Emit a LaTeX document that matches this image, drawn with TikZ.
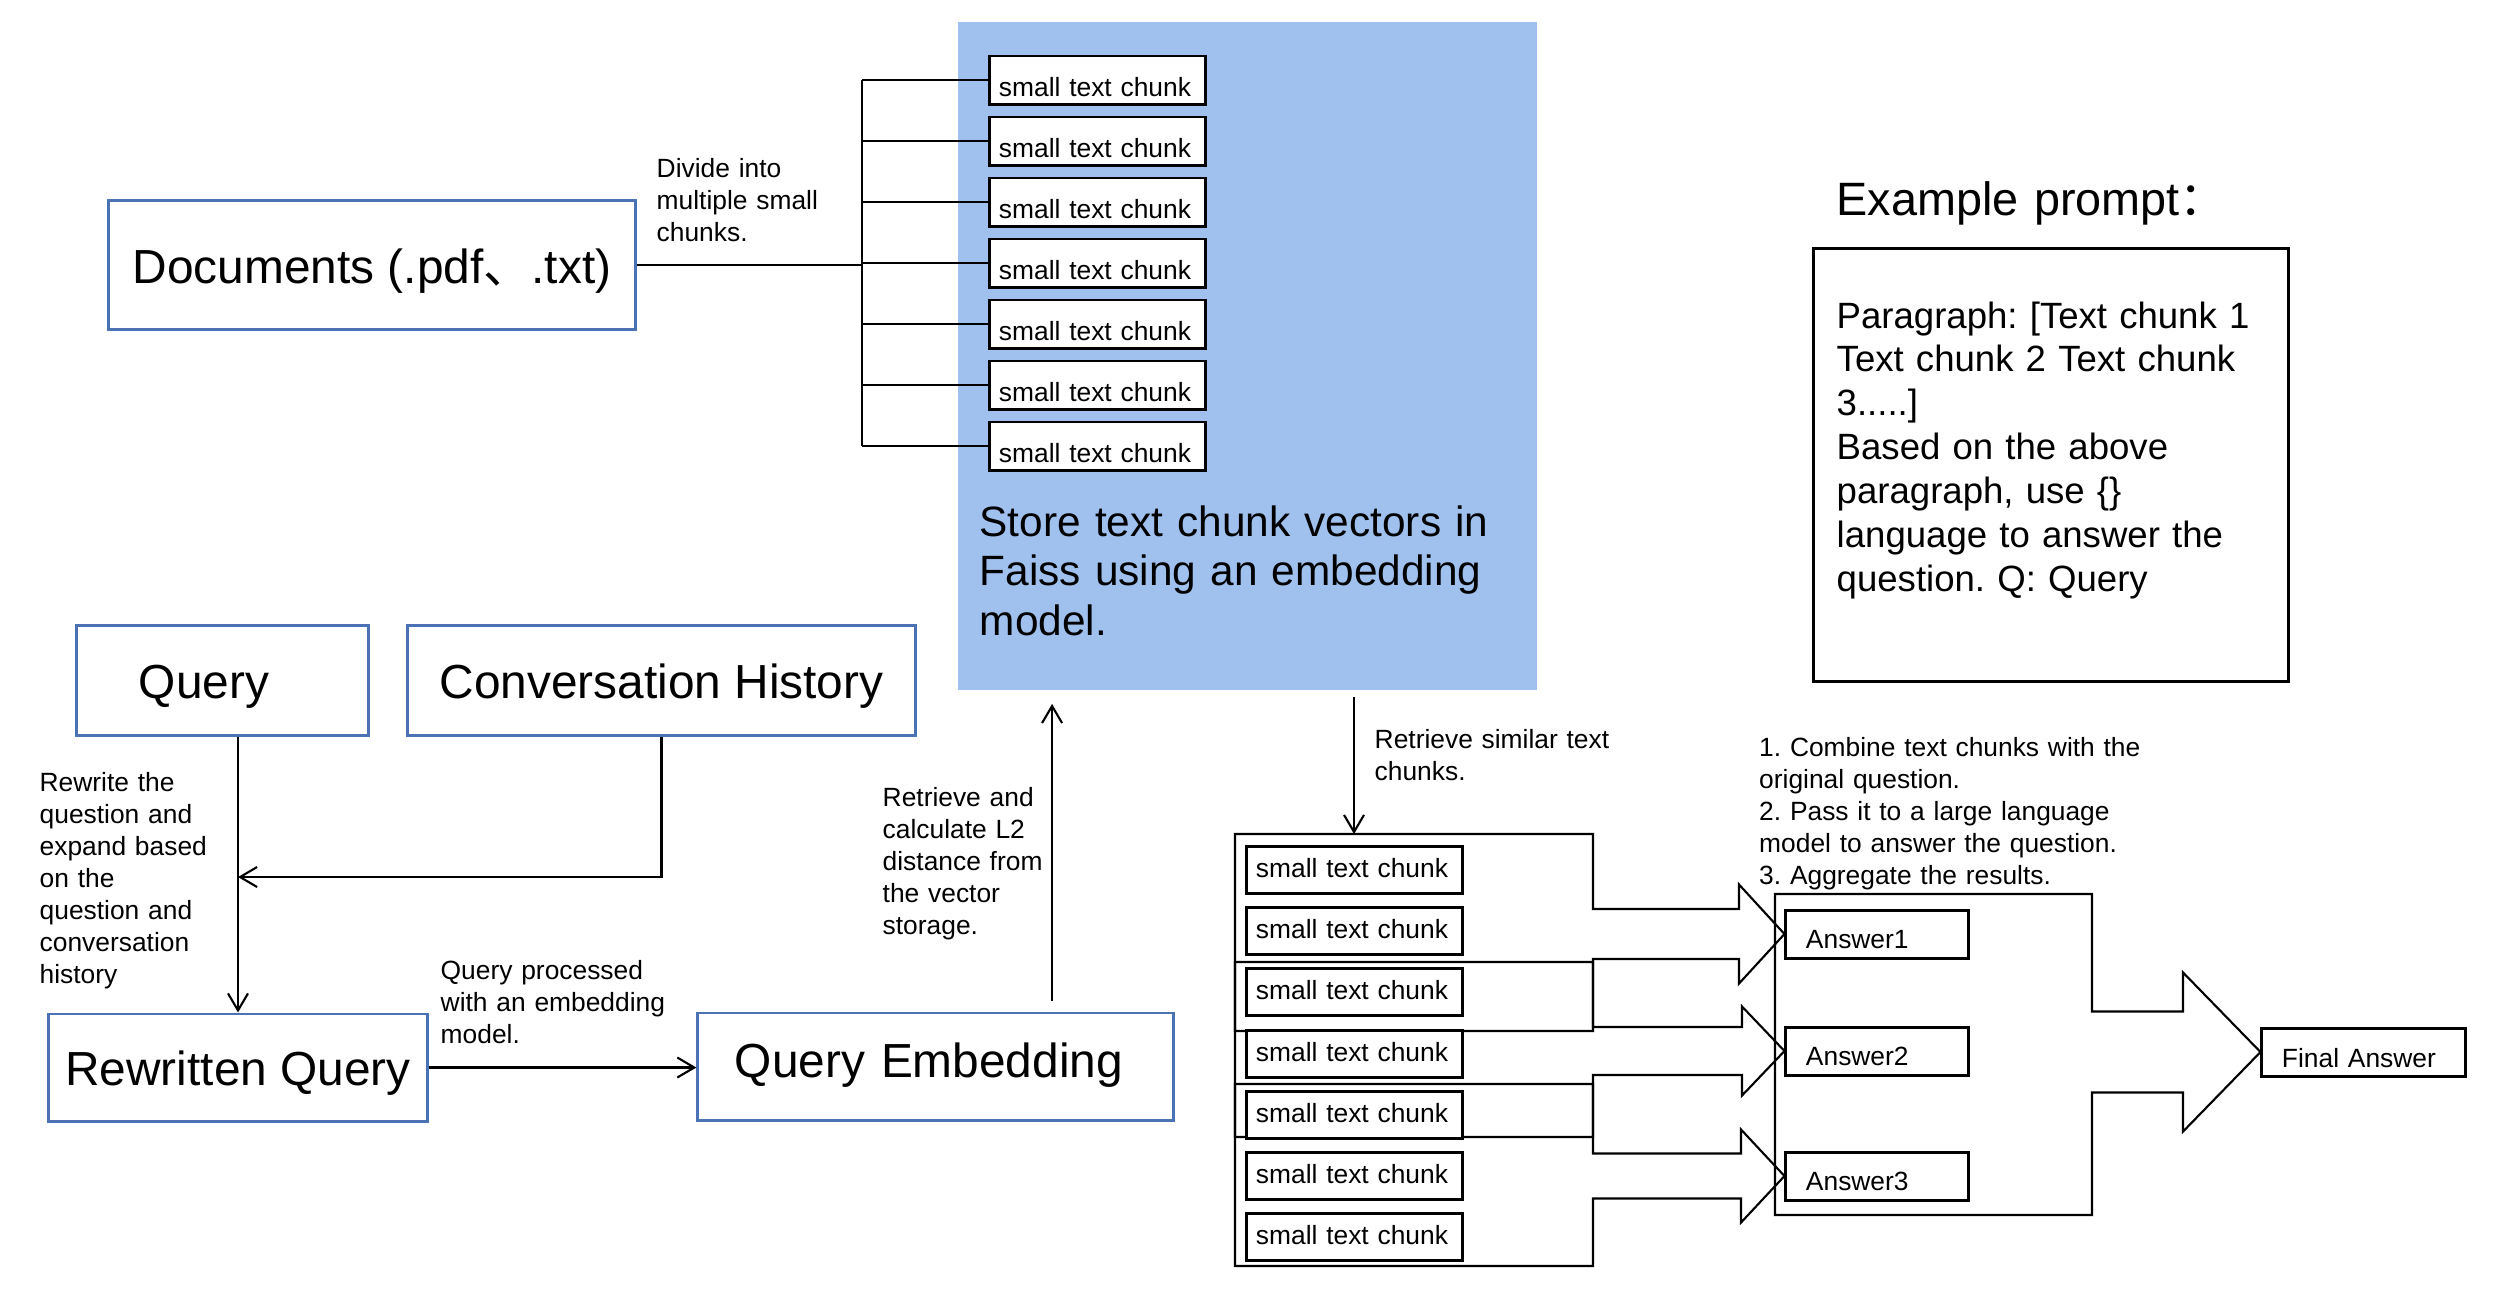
\documentclass[tikz,border=0pt]{standalone}
\usepackage{fontspec}
\setmainfont{Liberation Sans}
\newfontfamily\cjkfont{Noto Sans CJK SC}
\usepackage{tikz}
\usetikzlibrary{arrows.meta,backgrounds,calc,positioning}
\definecolor{boxblue}{RGB}{74,114,180}
\definecolor{storeblue}{RGB}{160,192,238}
\frenchspacing
\newcommand{\bigFont}{\fontsize{13.6}{16}\selectfont}
\newcommand{\smallFont}{\fontsize{7.5}{9.1}\selectfont}
\newcommand{\arrowCalloutXX}[8]{
    %% body from #1 to #2 (x), #3 to #4 (y), head base at #5, tip on #8
    \coordinate (TIP) at (#8.west);
    \coordinate (SHT) at ([yshift=#6]TIP);
    \coordinate (SHB) at ([yshift=-#6]TIP);
    \coordinate (HDT) at ([yshift=#7]TIP);
    \coordinate (HDB) at ([yshift=-#7]TIP);
    \begin{scope}[on background layer]
    \draw[callout] (#1,#3) -- (#2,#3) -- (#2,#3 |- SHT) -- (#5,#3 |- SHT)
        -- (#5,#3 |- HDT) -- (TIP) -- (#5,#3 |- HDB) -- (#5,#3 |- SHB)
        -- (#2,#3 |- SHB) -- (#2,#4) -- (#1,#4) -- cycle;
    \end{scope}
}

\begin{document}
\begin{tikzpicture}[x=0.01cm,y=-0.01cm]
    \tikzstyle{bnode}=[rectangle,draw=boxblue,line width=0.85pt,font=\bigFont,%
    inner ysep=0pt,text height=0.45cm,text depth=0.09cm] %
    \tikzstyle{cnode}=[rectangle,draw,fill=white,line width=0.85pt,font=\smallFont,%
    minimum width=2.15cm,inner xsep=0.09cm,inner ysep=0pt,text width=1.97cm,align=left] %
    \tikzstyle{ctop}=[cnode,text height=0.40cm,text depth=0.08cm] %
    \tikzstyle{cbot}=[cnode,text height=0.31cm,text depth=0.16cm] %
    \tikzstyle{anode}=[rectangle,draw,fill=white,line width=0.85pt,font=\smallFont,%
    inner xsep=0.2cm,inner ysep=0pt,align=left,text height=0.385cm,text depth=0.095cm] %
    \tikzstyle{note}=[inner sep=0pt,anchor=base west,align=left,text width=4.5cm,%
    font=\smallFont] %
    \tikzstyle{conn}=[line width=0.6pt,-{Straight Barb[length=0.17cm,width=0.2cm]}] %
    \tikzstyle{brk}=[line width=0.5pt] %
    \tikzstyle{callout}=[line width=0.6pt,line join=miter] %

    \useasboundingbox (0,0) rectangle (2516,1302);

    %% Documents and the chunk store
    \node[bnode,minimum width=5.26cm,minimum height=1.28cm] (DOCS) at (372,265)
        {Documents (.pdf{\cjkfont 、}.txt)};
    \node[rectangle,fill=storeblue,minimum width=5.79cm,minimum height=6.68cm]
        (STORE) at (1247.5,356) {};
    \foreach \i in {1,...,7}
    {
        \node[ctop] (CHK\i) at (1097.5, {80+61*(\i-1)}) {small text chunk};
    }
    \node[note,text width=5.6cm,font=\fontsize{12.05}{14.2}\selectfont] (STORETXT)
        at (979,536) {Store text chunk vectors in\\Faiss using an embedding\\model.};

    \coordinate (BRK) at (862,263);
    \draw[brk] (DOCS.east) -- (DOCS.east -| BRK);
    \draw[brk] (CHK1.west -| BRK) -- (CHK7.west -| BRK);
    \foreach \i in {1,...,7}
    {
        \draw[brk] (CHK\i.west -| BRK) -- (CHK\i.west);
    }
    \node[note] (DIVLBL) at (656,177) {Divide into\\multiple small\\chunks.};

    %% Query side
    \node[bnode,minimum width=2.91cm,minimum height=1.09cm,inner xsep=0.62cm,%
        text width=1.67cm,align=left] (QUERY) at (222.5,680.5) {Query};
    \node[bnode,minimum width=5.07cm,minimum height=1.09cm] (CONV) at (661.5,680.5)
        {Conversation History};
    \node[bnode,minimum width=3.78cm,minimum height=1.07cm] (REWRITE) at (238,1067.5)
        {Rewritten Query};
    \node[bnode,minimum width=4.75cm,minimum height=1.07cm,inner xsep=0.37cm,%
        text width=4.01cm,align=left,text depth=0.24cm] (QEMB) at (935.5,1066.5)
        {Query Embedding};

    \coordinate (MERGE) at (REWRITE.north |- 0,877);
    \draw[conn] (QUERY.south -| REWRITE.north) -- (REWRITE.north);
    \draw[conn] (CONV.south) |- (MERGE);
    \draw[conn] (REWRITE.east) -- (REWRITE.east -| QEMB.west);
    \draw[conn,shorten <=0.1cm,shorten >=0.13cm] ([xshift=1.165cm]QEMB.north)
        -- ([xshift=1.165cm]QEMB.north |- STORE.south);

    \node[note] (RWLBL) at (39,791) {Rewrite the\\question and\\expand based\\on the\\%
        question and\\conversation\\history};
    \node[note] (PROCLBL) at (440,979) {Query processed\\with an embedding\\model.};
    \node[note] (RETRLBL) at (882,806)
        {Retrieve and\\calculate L2\\distance from\\the vector\\storage.};

    %% Retrieved chunks, answers and the final answer
    \node[anode,text width=1.42cm] (ANS1) at (1877,934) {Answer1};
    \node[anode,text width=1.42cm] (ANS2) at (1877,1051) {Answer2};
    \node[anode,text width=1.42cm] (ANS3) at (1877,1176) {Answer3};
    \node[anode,text width=1.63cm,text height=0.39cm,text depth=0.09cm] (FINAL)
        at (2363.5,1052) {Final Answer};

    \arrowCalloutXX{1775}{2092}{894}{1215}{2183}{0.405cm}{0.795cm}{FINAL}
    \arrowCalloutXX{1235}{1593}{834}{1031}{1739}{0.25cm}{0.495cm}{ANS1}
    \arrowCalloutXX{1235}{1593}{962}{1137}{1742}{0.24cm}{0.445cm}{ANS2}
    \arrowCalloutXX{1235}{1593}{1084}{1266}{1741}{0.225cm}{0.465cm}{ANS3}

    \foreach \i in {1,...,7}
    {
        \node[cbot] (RET\i) at (1354.5, {870+61.2*(\i-1)}) {small text chunk};
    }

    \coordinate (GRPTOP) at (1354,834);
    \draw[conn,shorten <=0.06cm] (STORE.south -| GRPTOP) -- (GRPTOP);
    \node[note] (SIMLBL) at (1374,748) {Retrieve similar text\\chunks.};
    \node[note] (STEPLBL) at (1758.5,756) {1. Combine text chunks with the\\%
        original question.\\2. Pass it to a large language\\%
        model to answer the question.\\3. Aggregate the results.};

    %% Example prompt
    \node[note,font=\fontsize{13.3}{16}\selectfont,text width=6cm] (PTITLE)
        at (1836,215) {Example prompt{\cjkfont ：}};
    \node[rectangle,draw,line width=0.85pt,minimum width=4.74cm,minimum height=4.32cm]
        (PROMPT) at (2051,465) {};
    \node[note,font=\fontsize{10.4}{12.5}\selectfont,text width=4.4cm] (PROMPTTXT)
        at (1836,328) {Paragraph: [Text chunk 1\\Text chunk 2 Text chunk\\3.....]\\%
        Based on the above\\paragraph, use \{\}\\language to answer the\\%
        question. Q: Query};
\end{tikzpicture}
\end{document}
